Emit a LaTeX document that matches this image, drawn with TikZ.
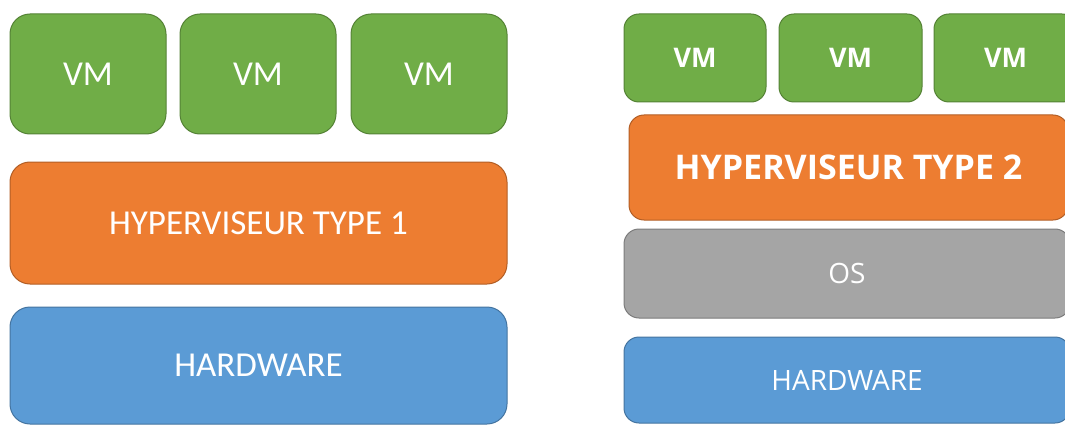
\documentclass[tikz,border=0pt]{standalone}
\usepackage{fontspec}
\setmainfont{Carlito}
\newfontfamily\rightfont{Open Sans}
\usetikzlibrary{positioning}
\definecolor{vmgreen}{HTML}{70AD47}
\definecolor{hvorange}{HTML}{ED7D31}
\definecolor{hwblue}{HTML}{5B9BD5}
\definecolor{osgray}{HTML}{A5A5A5}

\begin{document}
\begin{tikzpicture}[
                x=1pt, y=-1pt,
                layer/.style={rounded corners=20pt, inner sep=0pt, text=white, line width=1pt, font=\fontsize{35}{37}\selectfont},
                layerb/.style={layer, rounded corners=15pt, font=\rightfont\fontsize{28}{30}\selectfont},
                vm/.style={fill=vmgreen, draw=vmgreen!75!black},
                hv/.style={fill=hvorange, draw=hvorange!75!black},
                hw/.style={fill=hwblue, draw=hwblue!75!black},
                os/.style={fill=osgray, draw=osgray!75!black}
            ]
            \clip (0,0) rectangle (1065,425);
            \useasboundingbox (0,0) rectangle (1065,425);
            % type 1
            \node[layer, vm, minimum width=156pt, minimum height=120pt] (vma) at (88,74) {VM};
            \node[layer, vm, minimum width=156pt, minimum height=120pt] (vmb) at (258,74) {VM};
            \node[layer, vm, minimum width=156pt, minimum height=120pt] (vmc) at (429,74) {VM};
            \node[layer, hv, minimum width=497pt, minimum height=122pt] (hva) at (258.5,223) {HYPERVISEUR TYPE 1};
            \node[layer, hw, minimum width=497pt, minimum height=117pt] (hwa) at (258.5,365.5) {HARDWARE};
            % type 2
            \node[layerb, vm, minimum width=142pt, minimum height=88pt, font=\rightfont\bfseries\fontsize{27}{29}\selectfont] (vmd) at (695,58) {VM};
            \node[layerb, vm, minimum width=143pt, minimum height=88pt, font=\rightfont\bfseries\fontsize{27}{29}\selectfont] (vme) at (850.5,58) {VM};
            \node[layerb, vm, minimum width=143pt, minimum height=88pt, font=\rightfont\bfseries\fontsize{27}{29}\selectfont] (vmf) at (1005.5,58) {VM};
            \node[layerb, hv, minimum width=439pt, minimum height=105pt, font=\rightfont\bfseries\fontsize{34}{36}\selectfont] (hvb) at (848.5,167.5) {HYPERVISEUR TYPE 2};
            \node[layerb, os, minimum width=446pt, minimum height=89pt] (osb) at (847,273.5) {OS};
            \node[layerb, hw, minimum width=446pt, minimum height=86pt] (hwb) at (847,380) {HARDWARE};
        \end{tikzpicture}
\end{document}
